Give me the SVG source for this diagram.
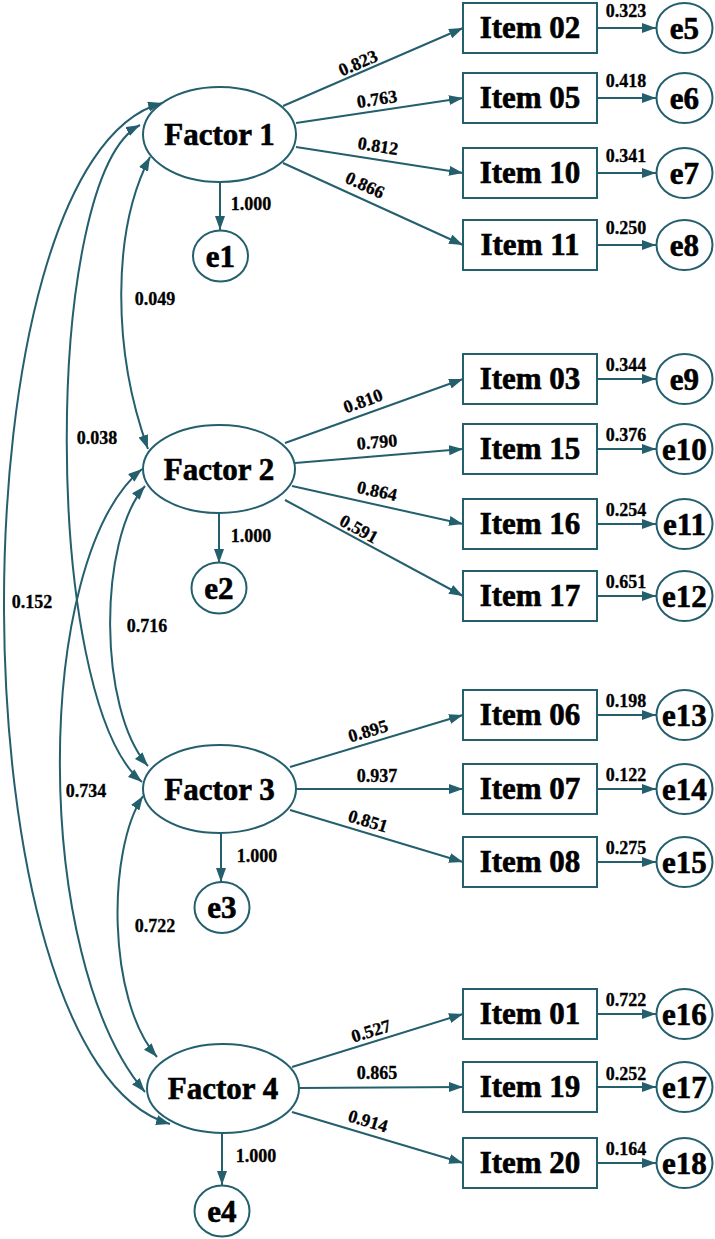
<svg xmlns="http://www.w3.org/2000/svg" width="715" height="1239" viewBox="0 0 715 1239">
<defs>
<marker id="ah" markerUnits="userSpaceOnUse" markerWidth="15" markerHeight="11" refX="14" refY="5" orient="auto-start-reverse">
<path d="M0,0 L14,5 L0,10 z" fill="#245f6e"/>
</marker>
<style>
.ln{fill:none;stroke:#245f6e;stroke-width:2}
.ar{fill:none;stroke:#245f6e;stroke-width:2;marker-end:url(#ah)}
.cv{fill:none;stroke:#245f6e;stroke-width:2;marker-start:url(#ah);marker-end:url(#ah)}
.nd{fill:#fff;stroke:#245f6e;stroke-width:2}
.big{font-family:"Liberation Serif","Times New Roman",serif;font-weight:bold;font-size:31px;fill:#000;stroke:#000;stroke-width:0.6;text-anchor:middle}
.sm{font-family:"Liberation Serif","Times New Roman",serif;font-weight:bold;font-size:18px;fill:#000;stroke:#000;stroke-width:0.3;text-anchor:middle}
</style>
</defs>
<rect width="715" height="1239" fill="#fff"/>

<g id="connectors">
<path class="cv" d="M150,157 C112,230 112,350 148,449"/>
<path class="cv" d="M140,125 C42,176 42,700 142,782"/>
<path class="cv" d="M162,103 C-50,160 -50,1060 170,1124"/>
<path class="cv" d="M145,486 C98,540 98,710 148,766"/>
<path class="cv" d="M142,469 C32,560 32,960 145,1092"/>
<path class="cv" d="M143,796 C107,850 107,1000 157,1057"/>
<path class="ar" d="M220,183 L220,230"/>
<path class="ar" d="M219,513 L219,563"/>
<path class="ar" d="M221,833 L221,882"/>
<path class="ar" d="M222,1133 L222,1185"/>
<path class="ar" d="M283,106 L463,28"/>
<path class="ar" d="M296,123 L463,98"/>
<path class="ar" d="M296,147 L463,173"/>
<path class="ar" d="M283,163 L463,245"/>
<path class="ar" d="M285,443 L463,379"/>
<path class="ar" d="M295,463 L463,449"/>
<path class="ar" d="M292,486 L463,524"/>
<path class="ar" d="M285,500 L463,596"/>
<path class="ar" d="M290,767 L463,715"/>
<path class="ar" d="M296,789 L463,789"/>
<path class="ar" d="M290,810 L463,862"/>
<path class="ar" d="M292,1067 L463,1014"/>
<path class="ar" d="M299,1088 L463,1087"/>
<path class="ar" d="M292,1112 L463,1163"/>
<path class="ar" d="M597,28 L656,28"/>
<path class="ar" d="M597,98 L656,98"/>
<path class="ar" d="M597,173 L656,173"/>
<path class="ar" d="M597,245 L656,245"/>
<path class="ar" d="M597,379 L656,379"/>
<path class="ar" d="M597,449 L656,449"/>
<path class="ar" d="M597,524 L656,524"/>
<path class="ar" d="M597,596 L656,596"/>
<path class="ar" d="M597,715 L656,715"/>
<path class="ar" d="M597,789 L656,789"/>
<path class="ar" d="M597,862 L656,862"/>
<path class="ar" d="M597,1014 L656,1014"/>
<path class="ar" d="M597,1087 L656,1087"/>
<path class="ar" d="M597,1163 L656,1163"/>
<text class="sm" x="155" y="305">0.049</text>
<text class="sm" x="97" y="444">0.038</text>
<text class="sm" x="32" y="608">0.152</text>
<text class="sm" x="147" y="632">0.716</text>
<text class="sm" x="86" y="797">0.734</text>
<text class="sm" x="155" y="932">0.722</text>
<text class="sm" x="251" y="210">1.000</text>
<text class="sm" x="251" y="542">1.000</text>
<text class="sm" x="257" y="862">1.000</text>
<text class="sm" x="256" y="1162">1.000</text>
<text class="sm" transform="translate(358,63) rotate(-23.4)" y="6">0.823</text>
<text class="sm" transform="translate(377,99) rotate(-8.5)" y="6">0.763</text>
<text class="sm" transform="translate(378,146) rotate(8.8)" y="6">0.812</text>
<text class="sm" transform="translate(365,185) rotate(24.5)" y="6">0.866</text>
<text class="sm" transform="translate(363,401) rotate(-19.9)" y="6">0.810</text>
<text class="sm" transform="translate(377,442) rotate(-4.8)" y="6">0.790</text>
<text class="sm" transform="translate(377,491) rotate(12.6)" y="6">0.864</text>
<text class="sm" transform="translate(359,529) rotate(28.5)" y="6">0.591</text>
<text class="sm" transform="translate(368,731) rotate(-16.2)" y="6">0.895</text>
<text class="sm" transform="translate(377,776)" y="6">0.937</text>
<text class="sm" transform="translate(368,821) rotate(16.8)" y="6">0.851</text>
<text class="sm" transform="translate(371,1031) rotate(-17.2)" y="6">0.527</text>
<text class="sm" transform="translate(377,1073)" y="6">0.865</text>
<text class="sm" transform="translate(368,1121) rotate(16.6)" y="6">0.914</text>
<text class="sm" x="626" y="17">0.323</text>
<text class="sm" x="626" y="87">0.418</text>
<text class="sm" x="626" y="162">0.341</text>
<text class="sm" x="626" y="234">0.250</text>
<text class="sm" x="626" y="371">0.344</text>
<text class="sm" x="626" y="441">0.376</text>
<text class="sm" x="626" y="516">0.254</text>
<text class="sm" x="626" y="588">0.651</text>
<text class="sm" x="626" y="707">0.198</text>
<text class="sm" x="626" y="781">0.122</text>
<text class="sm" x="626" y="854">0.275</text>
<text class="sm" x="626" y="1006">0.722</text>
<text class="sm" x="626" y="1080">0.252</text>
<text class="sm" x="626" y="1155">0.164</text>
</g>

<g id="factor1"><ellipse class="nd" cx="219.5" cy="134.5" rx="76.5" ry="47.5"/><text class="big" x="219.5" y="145">Factor 1</text></g>
<g id="factor2"><ellipse class="nd" cx="219" cy="469" rx="76" ry="44"/><text class="big" x="219" y="479.5">Factor 2</text></g>
<g id="factor3"><ellipse class="nd" cx="219.5" cy="789" rx="76.5" ry="44"/><text class="big" x="219.5" y="799.5">Factor 3</text></g>
<g id="factor4"><ellipse class="nd" cx="223" cy="1088.5" rx="76" ry="44.5"/><text class="big" x="223" y="1099">Factor 4</text></g>

<g id="e1"><ellipse class="nd" cx="220.5" cy="256" rx="27.5" ry="25.5"/><text class="big" x="220.5" y="266.5">e1</text></g>
<g id="e2"><ellipse class="nd" cx="219" cy="588" rx="27.5" ry="25.5"/><text class="big" x="219" y="598.5">e2</text></g>
<g id="e3"><ellipse class="nd" cx="222" cy="907.5" rx="27.5" ry="25.5"/><text class="big" x="222" y="918">e3</text></g>
<g id="e4"><ellipse class="nd" cx="222" cy="1211" rx="27.5" ry="25.5"/><text class="big" x="222" y="1221.5">e4</text></g>

<g id="item02"><rect class="nd" x="463" y="3" width="134" height="50"/><text class="big" x="530" y="38">Item 02</text></g>
<g id="item05"><rect class="nd" x="463" y="73" width="134" height="50"/><text class="big" x="530" y="108">Item 05</text></g>
<g id="item10"><rect class="nd" x="463" y="148" width="134" height="50"/><text class="big" x="530" y="183">Item 10</text></g>
<g id="item11"><rect class="nd" x="463" y="220" width="134" height="50"/><text class="big" x="530" y="255">Item 11</text></g>
<g id="item03"><rect class="nd" x="463" y="354" width="134" height="50"/><text class="big" x="530" y="389">Item 03</text></g>
<g id="item15"><rect class="nd" x="463" y="424" width="134" height="50"/><text class="big" x="530" y="459">Item 15</text></g>
<g id="item16"><rect class="nd" x="463" y="499" width="134" height="50"/><text class="big" x="530" y="534">Item 16</text></g>
<g id="item17"><rect class="nd" x="463" y="571" width="134" height="50"/><text class="big" x="530" y="606">Item 17</text></g>
<g id="item06"><rect class="nd" x="463" y="690" width="134" height="50"/><text class="big" x="530" y="725">Item 06</text></g>
<g id="item07"><rect class="nd" x="463" y="764" width="134" height="50"/><text class="big" x="530" y="799">Item 07</text></g>
<g id="item08"><rect class="nd" x="463" y="837" width="134" height="50"/><text class="big" x="530" y="872">Item 08</text></g>
<g id="item01"><rect class="nd" x="463" y="989" width="134" height="50"/><text class="big" x="530" y="1024">Item 01</text></g>
<g id="item19"><rect class="nd" x="463" y="1062" width="134" height="50"/><text class="big" x="530" y="1097">Item 19</text></g>
<g id="item20"><rect class="nd" x="463" y="1138" width="134" height="50"/><text class="big" x="530" y="1173">Item 20</text></g>

<g id="e5"><ellipse class="nd" cx="684.5" cy="28" rx="28" ry="25"/><text class="big" x="684.5" y="38.5">e5</text></g>
<g id="e6"><ellipse class="nd" cx="684.5" cy="98" rx="28" ry="25"/><text class="big" x="684.5" y="108.5">e6</text></g>
<g id="e7"><ellipse class="nd" cx="684.5" cy="173" rx="28" ry="25"/><text class="big" x="684.5" y="183.5">e7</text></g>
<g id="e8"><ellipse class="nd" cx="684.5" cy="245" rx="28" ry="25"/><text class="big" x="684.5" y="255.5">e8</text></g>
<g id="e9"><ellipse class="nd" cx="684.5" cy="379" rx="28" ry="25"/><text class="big" x="684.5" y="389.5">e9</text></g>
<g id="e10"><ellipse class="nd" cx="684.5" cy="449" rx="28" ry="25"/><text class="big" x="684.5" y="459.5">e10</text></g>
<g id="e11"><ellipse class="nd" cx="684.5" cy="524" rx="28" ry="25"/><text class="big" x="684.5" y="534.5">e11</text></g>
<g id="e12"><ellipse class="nd" cx="684.5" cy="596" rx="28" ry="25"/><text class="big" x="684.5" y="606.5">e12</text></g>
<g id="e13"><ellipse class="nd" cx="684.5" cy="715" rx="28" ry="25"/><text class="big" x="684.5" y="725.5">e13</text></g>
<g id="e14"><ellipse class="nd" cx="684.5" cy="789" rx="28" ry="25"/><text class="big" x="684.5" y="799.5">e14</text></g>
<g id="e15"><ellipse class="nd" cx="684.5" cy="862" rx="28" ry="25"/><text class="big" x="684.5" y="872.5">e15</text></g>
<g id="e16"><ellipse class="nd" cx="684.5" cy="1014" rx="28" ry="25"/><text class="big" x="684.5" y="1024.5">e16</text></g>
<g id="e17"><ellipse class="nd" cx="684.5" cy="1087" rx="28" ry="25"/><text class="big" x="684.5" y="1097.5">e17</text></g>
<g id="e18"><ellipse class="nd" cx="684.5" cy="1163" rx="28" ry="25"/><text class="big" x="684.5" y="1173.5">e18</text></g>
</svg>
